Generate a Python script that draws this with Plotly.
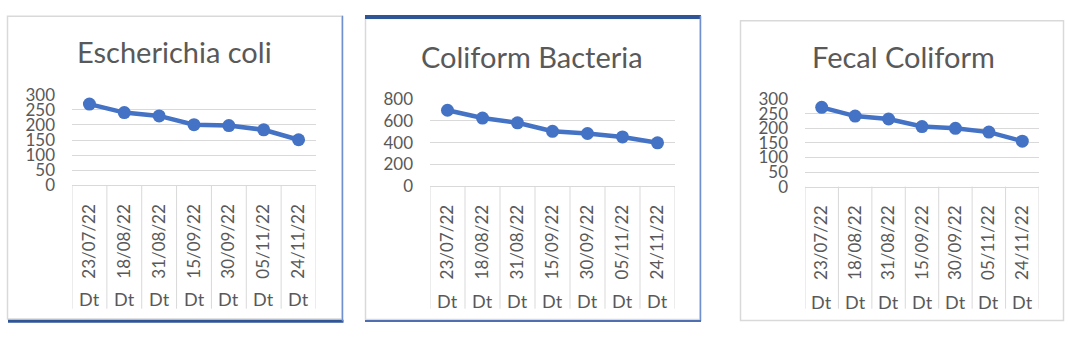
import plotly.graph_objects as go

dates = ["23/07/22", "18/08/22", "31/08/22", "15/09/22", "30/09/22", "05/11/22", "24/11/22"]
group_label = "Dt"
titles = ["Escherichia coli", "Coliform Bacteria", "Fecal Coliform"]
ecoli = [269, 241, 230, 201, 198, 184, 151]
coliform = [698, 626, 582, 504, 484, 452, 398]
fecal = [272, 242, 232, 206, 200, 187, 156]
series = [ecoli, coliform, fecal]
yticks = [[0, 50, 100, 150, 200, 250, 300], [0, 200, 400, 600, 800], [0, 50, 100, 150, 200, 250, 300]]

W, H = 1069, 337
FONT = "Lato"
TXT = "#595959"
GRID = "#d9d9d9"
LINE = "#4472C4"

def px(x):
    return x / W

def py(y):
    return 1 - y / H

# plot areas in pixels: (left, right, y_of_zero, y_of_max, title_x, title_y, dt_y)
areas = [
    (72, 316, 186, 89.3, 174, 43, 307),
    (430, 675, 186.7, 94, 532, 49, 309),
    (805, 1039, 187.3, 94, 903, 49, 310),
]

fig = go.Figure()
shapes = []
annotations = []
cats = list(range(len(dates)))

for i, (vals, ticks, area, title) in enumerate(zip(series, yticks, areas, titles)):
    left, right, y0, y1, tx, ty, dty = area
    n = "" if i == 0 else str(i + 1)
    fig.add_trace(go.Scatter(
        x=cats, y=vals, mode="lines+markers",
        line=dict(color=LINE, width=4.5),
        marker=dict(color=LINE, size=13),
        xaxis="x" + n, yaxis="y" + n, showlegend=False, hoverinfo="skip"))
    fig.layout["xaxis" + n] = dict(
        domain=[px(left), px(right)], anchor="y" + n,
        range=[-0.5, len(dates) - 0.5], tickmode="array", tickvals=cats, ticktext=dates,
        tickangle=-90, showgrid=False, showline=True, linecolor=GRID, linewidth=1,
        ticks="", ticklabelstandoff=11, zeroline=False,
        tickfont=dict(family=FONT, size=17, color=TXT), fixedrange=True)
    fig.layout["yaxis" + n] = dict(
        domain=[py(y0), py(y1)], anchor="x" + n,
        range=[0, ticks[-1]], tickmode="array", tickvals=ticks,
        showgrid=True, gridcolor=GRID, gridwidth=1, zeroline=False, showline=False,
        ticks="", ticklabelstandoff=16,
        tickfont=dict(family=FONT, size=17, color=TXT), fixedrange=True)
    # category separators
    for k in range(len(dates) + 1):
        shapes.append(dict(type="line", xref="x" + n, yref="paper",
                           x0=k - 0.5, x1=k - 0.5, y0=py(y0), y1=py(317.5),
                           line=dict(color=GRID, width=1), layer="below"))
    for k in cats:
        annotations.append(dict(xref="x" + n, yref="paper", x=k, y=py(dty),
                                text=group_label, showarrow=False,
                                font=dict(family=FONT, size=18, color=TXT),
                                xanchor="center", yanchor="middle"))
    annotations.append(dict(xref="paper", yref="paper", x=px(tx), y=py(ty),
                            text=title, showarrow=False,
                            font=dict(family=FONT, size=29, color=TXT),
                            xanchor="center", yanchor="middle"))

# panel frames
frames = [(7.5, 342, 5.5, 328.5), (365.5, 700, 8, 329), (740.5, 1063.5, 10.5, 330)]
for (x0, x1, y0, y1) in frames:
    shapes.append(dict(type="rect", xref="paper", yref="paper",
                       x0=px(x0), x1=px(x1), y0=py(y0), y1=py(y1),
                       line=dict(color="#d9d9d9", width=1.5), layer="below"))
# blue accents
shapes += [
    dict(type="line", xref="paper", yref="paper", x0=px(8), x1=px(343.5), y0=py(331), y1=py(331),
         line=dict(color="#2F5597", width=3)),
    dict(type="line", xref="paper", yref="paper", x0=px(342.5), x1=px(342.5), y0=py(5), y1=py(331),
         line=dict(color="#6F8FCF", width=1.5)),
    dict(type="line", xref="paper", yref="paper", x0=px(365), x1=px(701), y0=py(6.5), y1=py(6.5),
         line=dict(color="#2F5597", width=4)),
    dict(type="line", xref="paper", yref="paper", x0=px(700.5), x1=px(700.5), y0=py(5), y1=py(331),
         line=dict(color="#6F8FCF", width=1.5)),
    dict(type="line", xref="paper", yref="paper", x0=px(365), x1=px(701), y0=py(330.5), y1=py(330.5),
         line=dict(color="#4F6FB0", width=2)),
]

fig.update_layout(width=W, height=H, margin=dict(l=0, r=0, t=0, b=0),
                  paper_bgcolor="white", plot_bgcolor="white",
                  shapes=shapes, annotations=annotations)
fig.write_html("out.html", config={"displayModeBar": False})
